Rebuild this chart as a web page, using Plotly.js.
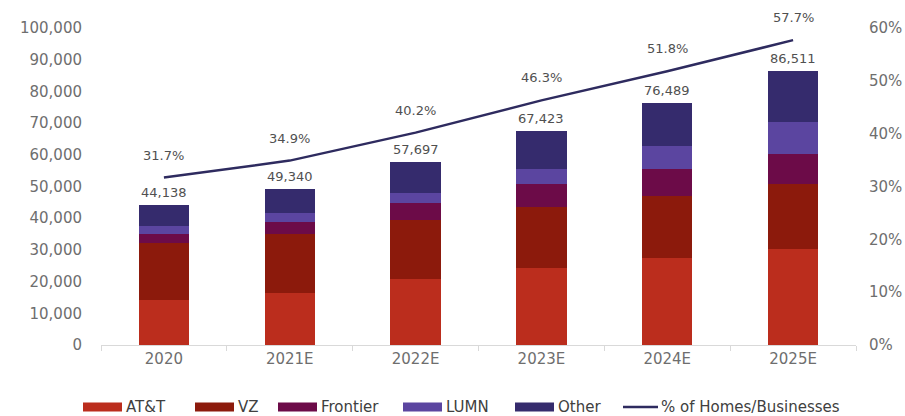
<!DOCTYPE html>
<html>
<head>
<meta charset="utf-8">
<script src="https://cdn.plot.ly/plotly-3.0.1.min.js"></script>
<style>html,body{margin:0;padding:0;background:#fff;}#chart{width:905px;height:416px;}</style>
</head>
<body>
<div id="chart"></div>
<script>
// ---- data ----
var categories = ["2020", "2021E", "2022E", "2023E", "2024E", "2025E"];
var seriesNames = ["AT&T", "VZ", "Frontier", "LUMN", "Other"];
var att      = [14200, 16500, 20700, 24200, 27300, 30200];
var vz       = [17900, 18500, 18700, 19400, 19700, 20500];
var frontier = [2900, 3700, 5500, 7100, 8400, 9600];
var lumn     = [2600, 3000, 3100, 4900, 7400, 9900];
var other    = [6538, 7640, 9697, 11823, 13689, 16311];
var totals   = [44138, 49340, 57697, 67423, 76489, 86511];
var totalLabels = ["44,138", "49,340", "57,697", "67,423", "76,489", "86,511"];
var pctName  = "% of Homes/Businesses";
var pct      = [31.7, 34.9, 40.2, 46.3, 51.8, 57.7];
var pctLabels = ["31.7%", "34.9%", "40.2%", "46.3%", "51.8%", "57.7%"];

// ---- style ----
var colors = ["#bb2d1d", "#8c1a0c", "#6c0b48", "#5b45a0", "#352b6d"];
var lineColor = "#2e2b5f";
var FONT = "DejaVu Sans, Verdana, sans-serif";
var TICK_COLOR = "#6e6e6e";
var LABEL_COLOR = "#505050";
var M = {l: 101, r: 49, t: 28, b: 71};
var W = 905, H = 416;
var PW = W - M.l - M.r, PH = H - M.t - M.b;
function px(x) { return (x - M.l) / PW; }
function py(y) { return (H - M.b - y) / PH; }

var stacks = [att, vz, frontier, lumn, other];
var traces = stacks.map(function (vals, i) {
  return {
    type: "bar", name: seriesNames[i], x: categories, y: vals,
    marker: {color: colors[i], line: {width: 0}},
    hoverinfo: "name+y", showlegend: false
  };
});
traces.push({
  type: "scatter", mode: "lines", name: pctName, x: categories, y: pct,
  yaxis: "y2", line: {color: lineColor, width: 2.5}, showlegend: false
});

var annotations = [];
categories.forEach(function (c, i) {
  // category axis: annotation x given as category index
  annotations.push({x: i, y: totals[i], xref: "x", yref: "y", text: totalLabels[i],
    showarrow: false, yanchor: "bottom", yshift: 3,
    font: {family: FONT, size: 13, color: LABEL_COLOR}});
  annotations.push({x: i, y: pct[i], xref: "x", yref: "y2", text: pctLabels[i],
    showarrow: false, yanchor: "bottom", yshift: 13,
    font: {family: FONT, size: 13, color: LABEL_COLOR}});
});

// custom legend (wide swatches as in reference)
var shapes = [];
var legendX = [83, 195, 278, 403, 515];
var legY = 407;
seriesNames.forEach(function (n, i) {
  shapes.push({type: "rect", xref: "paper", yref: "paper",
    x0: px(legendX[i]), x1: px(legendX[i] + 39), y0: py(legY + 4.5), y1: py(legY - 4.5),
    fillcolor: colors[i], line: {width: 0}});
  annotations.push({xref: "paper", yref: "paper", x: px(legendX[i] + 41), y: py(legY),
    xanchor: "left", yanchor: "middle", showarrow: false, text: n,
    font: {family: FONT, size: 15, color: "#404040"}});
});
shapes.push({type: "line", xref: "paper", yref: "paper",
  x0: px(623), x1: px(658), y0: py(legY), y1: py(legY),
  line: {color: lineColor, width: 2.5}});
annotations.push({xref: "paper", yref: "paper", x: px(659), y: py(legY),
  xanchor: "left", yanchor: "middle", showarrow: false, text: pctName,
  font: {family: FONT, size: 15, color: "#404040"}});

var layout = {
  width: W, height: H,
  margin: M,
  paper_bgcolor: "#fff", plot_bgcolor: "#fff",
  barmode: "stack", bargap: 0.6,
  showlegend: false,
  font: {family: FONT, size: 15, color: TICK_COLOR},
  xaxis: {
    type: "category", categoryorder: "array", categoryarray: categories,
    range: [-0.5, categories.length - 0.5],
    showgrid: false, showline: true, linecolor: "#d9d9d9", linewidth: 1,
    ticks: "outside", tickson: "boundaries", ticklen: 5, tickcolor: "#d9d9d9",
    tickfont: {family: FONT, size: 15, color: TICK_COLOR}, zeroline: false
  },
  yaxis: {
    range: [0, 100000], dtick: 10000, tickformat: ",d", showgrid: false, zeroline: false,
    showline: false, ticks: "", ticklabelstandoff: 18,
    tickfont: {family: FONT, size: 15, color: TICK_COLOR}
  },
  yaxis2: {
    overlaying: "y", side: "right", range: [0, 60], dtick: 10, ticksuffix: "%",
    showgrid: false, zeroline: false, showline: false, ticks: "", ticklabelstandoff: 12,
    tickfont: {family: FONT, size: 15, color: TICK_COLOR}
  },
  annotations: annotations,
  shapes: shapes
};

Plotly.newPlot("chart", traces, layout, {displayModeBar: false, staticPlot: true});
</script>
</body>
</html>
